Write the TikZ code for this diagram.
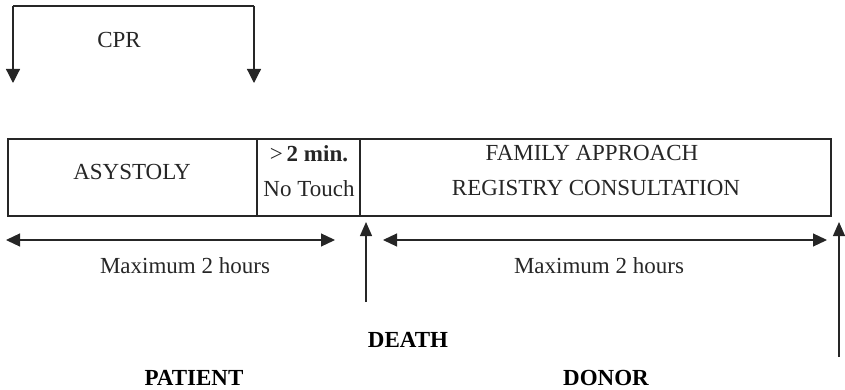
\documentclass[tikz,border=0pt]{standalone}
\usepackage{fontspec}
\setmainfont{Liberation Serif}
\usetikzlibrary{arrows.meta}
\tikzset{
  lbl/.style={inner sep=0pt, text=black!85, font=\fontsize{23}{26}\selectfont},
  blbl/.style={inner sep=0pt, font=\fontsize{23}{26}\selectfont\bfseries},
  ln/.style={line width=1.2pt, draw=black!85},
  tip/.style={-{Triangle[length=14pt,width=14pt]}},
  dtip/.style={{Triangle[length=14pt,width=13pt]}-{Triangle[length=14pt,width=13pt]}},
  vtip/.style={-{Triangle[length=14pt,width=12pt]}}
}
\begin{document}
\begin{tikzpicture}[x=1pt,y=-1pt]
\useasboundingbox (0,0) rectangle (845,390);
% CPR bracket
\coordinate (c1) at (13,6);
\coordinate (c2) at (254,6);
\coordinate (c1e) at (13,83);
\coordinate (c2e) at (254,83);
\draw[ln] (c1) -- (c2);
\draw[ln,tip] (c1) -- (c1e);
\draw[ln,tip] (c2) -- (c2e);
\node[lbl] (cpr) at (119,40) {CPR};
% box
\coordinate (bTL) at (8,139);
\coordinate (bBR) at (831,216);
\draw[ln] (bTL) rectangle (bBR);
\coordinate (d1t) at (257,139); \coordinate (d1b) at (257,216);
\coordinate (d2t) at (360,139); \coordinate (d2b) at (360,216);
\draw[ln] (d1t) -- (d1b);
\draw[ln] (d2t) -- (d2b);
\node[lbl] (asy) at (132,172) {ASYSTOLY};
\node[lbl] (min) at (309,154) {>\,\textbf{2 min.}};
\node[lbl] (touch) at (309,189) {No Touch};
\node[lbl] (fam) at (592,153) {FAMILY APPROACH};
\node[lbl] (reg) at (596,188) {REGISTRY CONSULTATION};
% left double arrow
\coordinate (la) at (6,240); \coordinate (lb) at (335,240);
\draw[ln,dtip] (la) -- (lb);
\node[lbl] (max1) at (185,266) {Maximum 2 hours};
% death arrow
\coordinate (da) at (366,302); \coordinate (db) at (366,222);
\draw[ln,vtip] (da) -- (db);
% right double arrow
\coordinate (ra) at (383,240); \coordinate (rb) at (827,240);
\draw[ln,dtip] (ra) -- (rb);
\node[lbl] (max2) at (599,266) {Maximum 2 hours};
% right vertical arrow
\coordinate (va) at (839,357); \coordinate (vb) at (839,222);
\draw[ln,vtip] (va) -- (vb);
% labels
\node[blbl] (death) at (408,340) {DEATH};
\node[blbl] (patient) at (194,378) {PATIENT};
\node[blbl] (donor) at (606,378) {DONOR};
\end{tikzpicture}
\end{document}
